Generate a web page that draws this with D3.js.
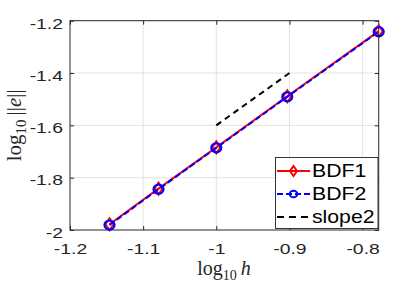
<!DOCTYPE html>
<html><head><meta charset="utf-8">
<script src="https://cdn.jsdelivr.net/npm/d3@7"></script>
<style>body{margin:0;background:#fff}svg{display:block}</style>
</head><body>
<svg id="c" width="418" height="283"></svg>
<script>
const logh = [-1.146, -1.079, -1.0, -0.903, -0.778];
const bdf1 = [-1.978, -1.842, -1.684, -1.489, -1.240];
const bdf2 = [-1.981, -1.844, -1.686, -1.491, -1.242];
const slopeX = [-1.0, -0.9];
const slopeY = [-1.6, -1.4];
const xTicks = [-1.2, -1.1, -1.0, -0.9, -0.8];
const yTicks = [-2, -1.8, -1.6, -1.4, -1.2];
const xTickLabels = ["-1.2", "-1.1", "-1", "-0.9", "-0.8"];
const yTickLabels = ["-2", "-1.8", "-1.6", "-1.4", "-1.2"];
const legendLabels = ["BDF1", "BDF2", "slope2"];

const svg = d3.select("#c");
const L = 70, R = 378.7, T = 20.7, B = 230;
const x = d3.scaleLinear().domain([-1.2, -0.778]).range([L, R]);
const y = d3.scaleLinear().domain([-2, -1.2]).range([B, T]);
const axisCol = "#262626";
const sx = 1.25;

// grid
const g = svg.append("g");
g.selectAll(".gx").data(xTicks.filter(t => x(t) > L + 1 && x(t) < R - 1)).enter().append("line")
  .attr("x1", d => x(d)).attr("x2", d => x(d)).attr("y1", T).attr("y2", B)
  .attr("stroke", "#e3e3e3").attr("stroke-width", 1);
g.selectAll(".gy").data(yTicks.filter(t => y(t) > T + 1 && y(t) < B - 1)).enter().append("line")
  .attr("y1", d => y(d)).attr("y2", d => y(d)).attr("x1", L).attr("x2", R)
  .attr("stroke", "#e3e3e3").attr("stroke-width", 1);

// axes
const tl = 4;
const xa = svg.append("g").attr("transform", `translate(0,${B})`)
  .call(d3.axisBottom(x).tickValues(xTicks).tickSize(-tl).tickFormat((d, i) => xTickLabels[i]));
const xat = svg.append("g").attr("transform", `translate(0,${T})`)
  .call(d3.axisTop(x).tickValues(xTicks).tickSize(-tl).tickFormat(""));
const ya = svg.append("g").attr("transform", `translate(${L},0)`)
  .call(d3.axisLeft(y).tickValues(yTicks).tickSize(-tl).tickFormat((d, i) => yTickLabels[i]));
const yar = svg.append("g").attr("transform", `translate(${R},0)`)
  .call(d3.axisRight(y).tickValues(yTicks).tickSize(-tl).tickFormat(""));
[xa, xat, ya, yar].forEach(a => {
  a.select(".domain").remove();
  a.selectAll("line").attr("stroke", axisCol).attr("stroke-width", 1);
});
xa.selectAll("text").attr("y", 24).attr("dy", null)
  .attr("transform", `scale(${sx},1)`)
  .style("font-family", "Liberation Sans, Arial, sans-serif").style("font-size", "15.5px").attr("fill", axisCol);
ya.selectAll("text").attr("x", -7 / sx).attr("dy", null).attr("y", 7.3)
  .attr("transform", `scale(${sx},1)`)
  .style("font-family", "Liberation Sans, Arial, sans-serif").style("font-size", "15.5px").attr("fill", axisCol);
svg.append("rect").attr("x", L).attr("y", T).attr("width", R - L).attr("height", B - T)
  .attr("fill", "none").attr("stroke", axisCol).attr("stroke-width", 1);

// lines
const line = d3.line().x(d => x(d[0])).y(d => y(d[1]));
const d1 = logh.map((v, i) => [v, bdf1[i]]);
const d2 = logh.map((v, i) => [v, bdf2[i]]);
const ds = slopeX.map((v, i) => [v, slopeY[i]]);
svg.append("path").attr("d", line(d1)).attr("fill", "none").attr("stroke", "#ff0000").attr("stroke-width", 2);
const diamond = (cx, cy, w, h) => `M${cx},${cy - h}L${cx + w},${cy}L${cx},${cy + h}L${cx - w},${cy}Z`;
svg.selectAll(".dm").data(d1).enter().append("path")
  .attr("d", d => diamond(x(d[0]), y(d[1]), 4, 6)).attr("fill", "none").attr("stroke", "#ff0000").attr("stroke-width", 2);
svg.append("path").attr("d", line(d2)).attr("fill", "none").attr("stroke", "#0000ff").attr("stroke-width", 2).attr("stroke-dasharray", "6,3");
svg.selectAll(".ci").data(d2).enter().append("ellipse")
  .attr("cx", d => x(d[0])).attr("cy", d => y(d[1])).attr("rx", 5).attr("ry", 4.5)
  .attr("fill", "none").attr("stroke", "#0000ff").attr("stroke-width", 2.2);
svg.append("path").attr("d", line(ds)).attr("fill", "none").attr("stroke", "#000").attr("stroke-width", 2).attr("stroke-dasharray", "6,4.5");

// axis labels
const xl = svg.append("text").attr("x", 224).attr("y", 275).attr("text-anchor", "middle")
  .style("font-family", "Liberation Serif, Times New Roman, serif").style("font-size", "20px").attr("fill", axisCol);
xl.append("tspan").text("log");
xl.append("tspan").attr("dy", 5).style("font-size", "14px").text("10");
xl.append("tspan").attr("dy", -5).attr("dx", 4).style("font-style", "italic").text("h");

const yl = svg.append("text").attr("transform", `translate(21,${(T + B) / 2}) rotate(-90)`).attr("text-anchor", "middle")
  .style("font-family", "Liberation Serif, Times New Roman, serif").style("font-size", "21px").attr("fill", axisCol);
yl.append("tspan").text("log");
yl.append("tspan").attr("dy", 5).style("font-size", "15px").text("10");
yl.append("tspan").attr("dy", -5).attr("dx", 4).text("||");
yl.append("tspan").style("font-style", "italic").text("e");
yl.append("tspan").text("||");

// legend
const lg = svg.append("g");
lg.append("rect").attr("x", 275.5).attr("y", 157.5).attr("width", 102.5).attr("height", 71)
  .attr("fill", "#fff").attr("stroke", "#333").attr("stroke-width", 1);
const rows = [171, 194, 217];
const lx0 = 277, lx1 = 310, lxm = 293.5;
lg.append("line").attr("x1", lx0).attr("x2", lx1).attr("y1", rows[0]).attr("y2", rows[0]).attr("stroke", "#ff0000").attr("stroke-width", 2);
lg.append("path").attr("d", diamond(lxm, rows[0], 3.5, 5)).attr("fill", "none").attr("stroke", "#ff0000").attr("stroke-width", 2);
lg.append("line").attr("x1", lx0).attr("x2", lx1).attr("y1", rows[1]).attr("y2", rows[1]).attr("stroke", "#0000ff").attr("stroke-width", 2).attr("stroke-dasharray", "6,3");
lg.append("ellipse").attr("cx", lxm).attr("cy", rows[1]).attr("rx", 3.8).attr("ry", 3.3).attr("fill", "none").attr("stroke", "#0000ff").attr("stroke-width", 2);
lg.append("line").attr("x1", lx0).attr("x2", lx1).attr("y1", rows[2]).attr("y2", rows[2]).attr("stroke", "#000").attr("stroke-width", 2).attr("stroke-dasharray", "7,5");
lg.selectAll(".lt").data(legendLabels).enter().append("text")
  .attr("x", 312 / 1.18).attr("y", (d, i) => rows[i] + 6.5)
  .attr("transform", "scale(1.18,1)")
  .style("font-family", "Liberation Sans, Arial, sans-serif").style("font-size", "18px").attr("fill", "#000")
  .text(d => d);
</script>
</body></html>
